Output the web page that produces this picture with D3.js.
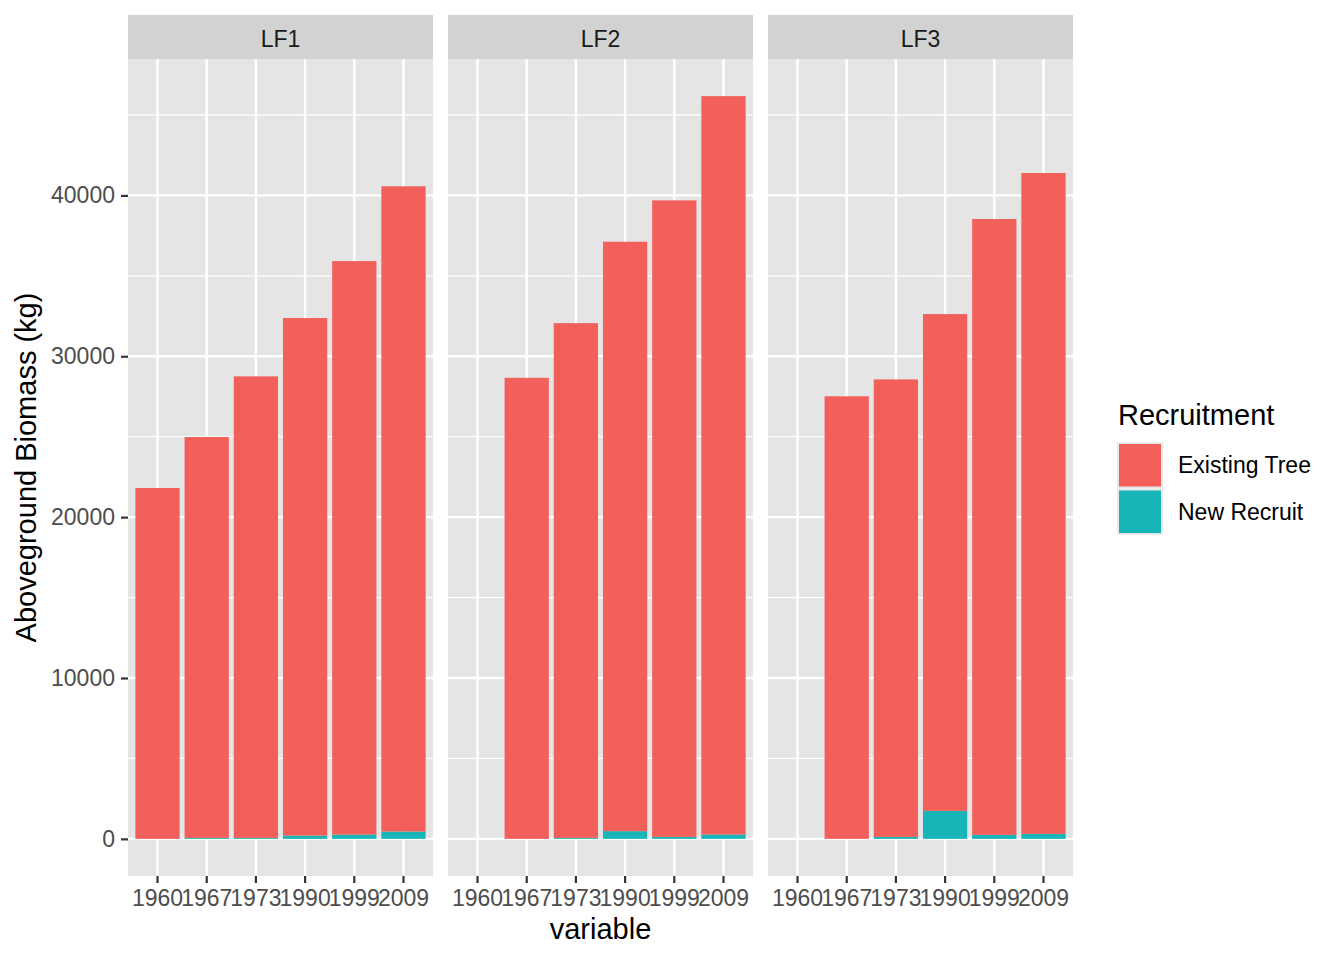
<!DOCTYPE html>
<html>
<head>
<meta charset="utf-8">
<script src="https://cdn.jsdelivr.net/npm/d3@7"></script>
<style>
  body { margin: 0; background: #ffffff; }
  text { font-family: "Liberation Sans", Arial, Helvetica, sans-serif; }
</style>
</head>
<body>
<div id="chart-area"></div>
<script>

// data (kg); null = no bar for that year
let years = ["1960", "1967", "1973", "1990", "1999", "2009"];
let plots = ["LF1", "LF2", "LF3"];
let groups = ["Existing Tree", "New Recruit"];

let lf1Existing = [21810, 24920, 28690, 32170, 35650, 40110];
let lf1New      = [0, 60, 60, 205, 265, 455];
let lf2Existing = [null, 28660, 32000, 36640, 39570, 45900];
let lf2New      = [null, 0, 60, 480, 120, 270];
let lf3Existing = [null, 27510, 28440, 30880, 38280, 41080];
let lf3New      = [null, 0, 120, 1740, 250, 310];

let yMajor = [0, 10000, 20000, 30000, 40000];
let yMinor = [5000, 15000, 25000, 35000, 45000];

let colors = ["#F35F5A", "#18B5B8"];

let existingByPlot = [lf1Existing, lf2Existing, lf3Existing];
let newByPlot = [lf1New, lf2New, lf3New];

// layout (ggplot-ish)
let W = 1344, H = 960;
let panelTop = 59, panelBottom = 876, stripTop = 15;
let panelLeft = 128, panelW = 305, panelGap = 15;

let svg = d3.select("#chart-area").append("svg")
	.attr("width", W)
	.attr("height", H);

// scales
let x = d3.scaleBand()
	.domain(years)
	.range([0, panelW])
	.paddingInner(0.1)
	.paddingOuter(0.15);

let totals = [];
existingByPlot.forEach((ex, p) => {
	ex.forEach((v, i) => {
		if (v != null) totals.push(v + newByPlot[p][i]);
	});
});
let yMax = d3.max(totals);

let y = d3.scaleLinear()
	.domain([-0.05 * yMax, 1.05 * yMax])
	.range([panelBottom, panelTop]);

let stack = d3.stack().keys(["New Recruit", "Existing Tree"]);

plots.forEach((name, p) => {
	let px = panelLeft + p * (panelW + panelGap);
	let g = svg.append("g")
		.attr("transform", "translate(" + px + ",0)");

	// strip
	g.append("rect")
		.attr("x", 0).attr("y", stripTop)
		.attr("width", panelW).attr("height", panelTop - stripTop)
		.style("fill", "#D2D2D2");
	g.append("text")
		.attr("x", panelW / 2)
		.attr("y", (stripTop + panelTop) / 2 + 10)
		.attr("text-anchor", "middle")
		.style("font-size", "23px")
		.style("fill", "#1A1A1A")
		.text(name);

	// panel background + grid
	g.append("rect")
		.attr("x", 0).attr("y", panelTop)
		.attr("width", panelW).attr("height", panelBottom - panelTop)
		.style("fill", "#E5E5E5");

	g.selectAll(".minor")
		.data(yMinor.filter(d => y(d) > panelTop))
		.enter().append("line")
		.attr("x1", 0).attr("x2", panelW)
		.attr("y1", d => y(d)).attr("y2", d => y(d))
		.style("stroke", "#ffffff")
		.style("stroke-width", 1.2);

	g.selectAll(".major")
		.data(yMajor)
		.enter().append("line")
		.attr("x1", 0).attr("x2", panelW)
		.attr("y1", d => y(d)).attr("y2", d => y(d))
		.style("stroke", "#ffffff")
		.style("stroke-width", 2.4);

	g.selectAll(".vgrid")
		.data(years)
		.enter().append("line")
		.attr("x1", d => x(d) + x.bandwidth() / 2)
		.attr("x2", d => x(d) + x.bandwidth() / 2)
		.attr("y1", panelTop).attr("y2", panelBottom)
		.style("stroke", "#ffffff")
		.style("stroke-width", 2.4);

	// bars
	let rows = years.map((yr, i) => ({
		year: yr,
		"Existing Tree": existingByPlot[p][i],
		"New Recruit": newByPlot[p][i]
	})).filter(d => d["Existing Tree"] != null);

	let series = stack(rows);
	series.forEach(s => {
		let col = colors[groups.indexOf(s.key)];
		g.selectAll(".bar-" + s.index)
			.data(s.filter(d => d[1] > d[0]))
			.enter().append("rect")
			.attr("x", d => x(d.data.year))
			.attr("width", x.bandwidth())
			.attr("y", d => y(d[1]))
			.attr("height", d => y(d[0]) - y(d[1]))
			.style("fill", col);
	});

	// x axis
	let xAxis = d3.axisBottom(x).tickSize(7).tickPadding(7);
	let xg = g.append("g")
		.attr("transform", "translate(0," + panelBottom + ")")
		.call(xAxis);
	xg.select(".domain").remove();
	xg.selectAll(".tick line").style("stroke", "#333333").style("stroke-width", 2.2);
	xg.selectAll(".tick text")
		.style("font-size", "23px")
		.style("fill", "#4D4D4D")
		.style("font-family", "'Liberation Sans', Arial, sans-serif");

	// y axis on the first panel only
	if (p === 0) {
		let yAxis = d3.axisLeft(y).tickValues(yMajor).tickSize(7).tickPadding(6)
			.tickFormat(d3.format("d"));
		let yg = g.append("g").call(yAxis);
		yg.select(".domain").remove();
		yg.selectAll(".tick line").style("stroke", "#333333").style("stroke-width", 2.2);
		yg.selectAll(".tick text")
			.style("font-size", "23px")
			.style("fill", "#4D4D4D")
			.style("font-family", "'Liberation Sans', Arial, sans-serif");
	}
});

// axis titles
let plotRight = panelLeft + 3 * panelW + 2 * panelGap;
svg.append("text")
	.attr("x", (panelLeft + plotRight) / 2)
	.attr("y", 939)
	.attr("text-anchor", "middle")
	.style("font-size", "29px")
	.style("fill", "#000000")
	.text("variable");

svg.append("text")
	.attr("transform", "translate(36," + ((panelTop + panelBottom) / 2) + ") rotate(-90)")
	.attr("text-anchor", "middle")
	.style("font-size", "29px")
	.style("fill", "#000000")
	.text("Aboveground Biomass (kg)");

// legend
let legend = svg.append("g").attr("transform", "translate(1117,0)");
legend.append("text")
	.attr("x", 1).attr("y", 425)
	.style("font-size", "29px")
	.style("fill", "#000000")
	.text("Recruitment");

let keySize = 46.5, keyTop = 442;
groups.forEach((gname, i) => {
	let ky = keyTop + i * keySize;
	legend.append("rect")
		.attr("x", 0).attr("y", ky)
		.attr("width", 46).attr("height", keySize)
		.style("fill", "#E8E8E8");
	legend.append("rect")
		.attr("x", 2).attr("y", ky + 2)
		.attr("width", 42).attr("height", keySize - 4)
		.style("fill", colors[i]);
	legend.append("text")
		.attr("x", 61).attr("y", ky + keySize / 2 + 8)
		.style("font-size", "23px")
		.style("fill", "#000000")
		.text(gname);
});

</script>
</body>
</html>
